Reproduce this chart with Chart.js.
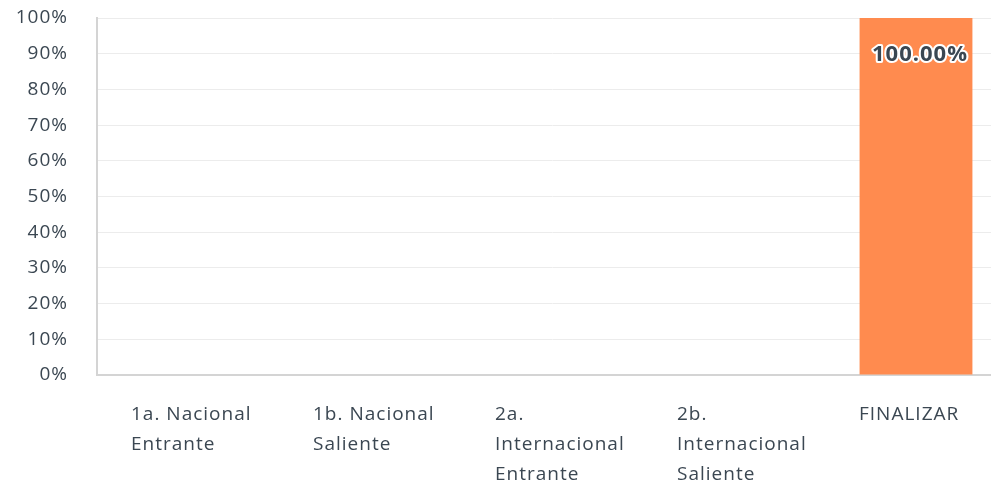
<!DOCTYPE html>
<html>
<head>
<meta charset="utf-8">
<script src="https://cdn.jsdelivr.net/npm/chart.js@4.4.1/dist/chart.umd.min.js"></script>
<style>
  html, body { margin: 0; padding: 0; background: #fff; overflow: hidden; }
  #wrap { width: 1007px; height: 482px; }
</style>
</head>
<body>
<div id="wrap"><canvas id="chart"></canvas></div>
<script>
// categorías (multilínea como en la imagen)
const categories = [
    ['1a. Nacional', 'Entrante'],
    ['1b. Nacional', 'Saliente'],
    ['2a.', 'Internacional', 'Entrante'],
    ['2b.', 'Internacional', 'Saliente'],
    ['FINALIZAR']
];
const percentValues = [0, 0, 0, 0, 100];
const valueLabels = ['', '', '', '', '100.00%'];

const textColor = '#3b4752';
const fontFamily = '"Open Sans"';

// espaciado de letras un poco más abierto (se pierde al redimensionar el canvas)
const spacingPlugin = {
    id: 'spacing',
    beforeLayout(chart) { chart.ctx.letterSpacing = '1px'; },
    beforeDraw(chart) { chart.ctx.letterSpacing = '1px'; }
};

// etiqueta dentro de la barra (contorno blanco + texto oscuro)
const barLabelPlugin = {
    id: 'barLabel',
    afterDatasetsDraw(chart) {
        const ctx = chart.ctx;
        const meta = chart.getDatasetMeta(0);
        ctx.save();
        ctx.font = 'bold 22px ' + fontFamily;
        ctx.textAlign = 'center';
        ctx.textBaseline = 'middle';
        ctx.lineJoin = 'round';
        meta.data.forEach((bar, i) => {
            if (!valueLabels[i]) return;
            const y = bar.y + 37;
            ctx.lineWidth = 4;
            ctx.strokeStyle = '#ffffff';
            ctx.strokeText(valueLabels[i], bar.x + 4, y);
            ctx.fillStyle = textColor;
            ctx.fillText(valueLabels[i], bar.x + 4, y);
        });
        ctx.restore();
    }
};

new Chart(document.getElementById('chart'), {
    type: 'bar',
    data: {
        labels: categories,
        datasets: [{
            data: percentValues,
            backgroundColor: '#ff8b4f',
            barPercentage: 0.62,
            categoryPercentage: 1.0
        }]
    },
    options: {
        responsive: true,
        maintainAspectRatio: false,
        animation: false,
        layout: { padding: { top: 18, left: 0, right: 0, bottom: 0 } },
        plugins: {
            legend: { display: false },
            tooltip: { enabled: false }
        },
        scales: {
            x: {
                grid: { display: false, drawTicks: false },
                border: { color: '#d4d4d4', width: 2 },
                ticks: {
                    color: textColor,
                    font: { family: fontFamily, size: 19, lineHeight: '30px' },
                    align: 'start',
                    labelOffset: -57,
                    padding: 25,
                    maxRotation: 0,
                    autoSkip: false
                },
                afterFit: scale => {
                    scale.height = 107;
                    scale.paddingLeft = 0;
                    scale.paddingRight = 0;
                }
            },
            y: {
                min: 0,
                max: 100,
                grid: { color: '#ececec', drawTicks: false },
                border: { color: '#d4d4d4', width: 2 },
                ticks: {
                    stepSize: 10,
                    color: textColor,
                    font: { family: fontFamily, size: 19 },
                    padding: 29,
                    callback: v => v + '%'
                },
                afterFit: scale => {
                    scale.width = 97;
                    scale.paddingTop = 0;
                    scale.paddingBottom = 0;
                }
            }
        }
    },
    plugins: [spacingPlugin, barLabelPlugin]
});
</script>
</body>
</html>
